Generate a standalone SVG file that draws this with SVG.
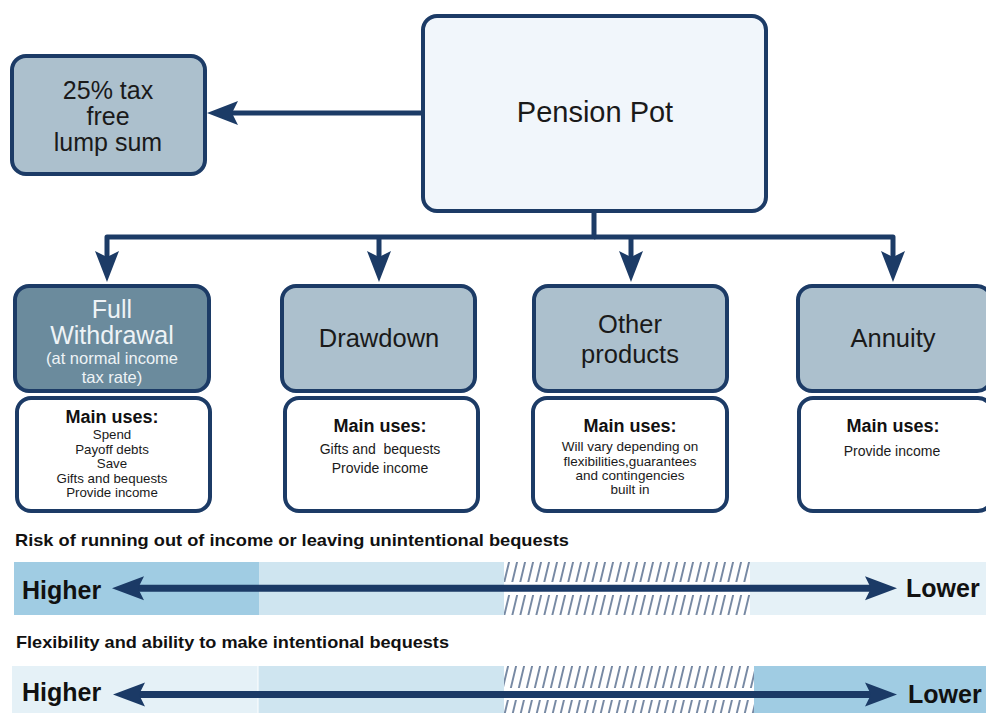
<svg xmlns="http://www.w3.org/2000/svg" width="986" height="713" viewBox="0 0 986 713">
<style>
.box{stroke:#1c3b66;stroke-width:4}
.pot{fill:#f1f6fb}
.mid{fill:#acc0cd}
.dark{fill:#6b8b9d}
.wht{fill:#ffffff}
.t{font-family:"Liberation Sans",Arial,sans-serif;fill:#1a1a1a;text-anchor:middle}
.tw{font-family:"Liberation Sans",Arial,sans-serif;fill:#eef3f6;text-anchor:middle}
.big{font-size:25px}
.b{font-family:"Liberation Sans",Arial,sans-serif;font-weight:bold;fill:#111}
.mu{font-size:18px;text-anchor:middle}
.s{font-size:14px}
.fs{font-size:13.3px}
.conn{fill:none;stroke:#1c3b66;stroke-width:5;stroke-linejoin:round}
.barrow{fill:none;stroke:#1b3a66;stroke-width:7}
</style>
<defs>
<marker id="ah" markerUnits="userSpaceOnUse" markerWidth="32" markerHeight="26" viewBox="0 -13 32 26" refX="6" refY="0" orient="auto">
<path d="M0,-12 L31,0 L0,12 L6,0 Z" fill="#1c3b66"/>
</marker>
<marker id="bh" markerUnits="userSpaceOnUse" markerWidth="33" markerHeight="26" viewBox="0 -13 33 26" refX="6" refY="0" orient="auto-start-reverse">
<path d="M0,-12 L32,0 L0,12 L6,0 Z" fill="#1b3a66"/>
</marker>
<pattern id="hatch" patternUnits="userSpaceOnUse" width="8" height="10" patternTransform="skewX(-13.5)">
<rect x="0" y="0" width="8" height="10" fill="#ffffff"/>
<line x1="4" y1="-1" x2="4" y2="11" stroke="#1c3b66" stroke-width="1.2"/>
</pattern>
</defs>

<g id="connectors">
<path class="conn" d="M421,113 H232" marker-end="url(#ah)"/>
<path class="conn" d="M594,212 V237 H107 V257" marker-end="url(#ah)"/>
<path class="conn" d="M594,237 H893 V257" marker-end="url(#ah)"/>
<path class="conn" d="M379,237 V257" marker-end="url(#ah)"/>
<path class="conn" d="M631,237 V257" marker-end="url(#ah)"/>
</g>

<g id="pension-pot">
<rect class="box pot" x="423" y="16" width="343" height="195" rx="14"/>
<text class="t" x="595" y="122" font-size="29">Pension Pot</text>
</g>

<g id="lump-sum">
<rect class="box mid" x="12" y="56" width="193" height="118" rx="14"/>
<text class="t big" x="108" y="99">25% tax</text>
<text class="t big" x="108" y="125">free</text>
<text class="t big" x="108" y="151">lump sum</text>
</g>

<g id="full-withdrawal">
<rect class="box dark" x="15" y="286" width="194" height="105" rx="14"/>
<text class="tw big" x="112" y="318">Full</text>
<text class="tw big" x="112" y="344">Withdrawal</text>
<text class="tw" x="112" y="364" font-size="16.5">(at normal income</text>
<text class="tw" x="112" y="383" font-size="16.5">tax rate)</text>
</g>
<g id="full-withdrawal-uses">
<rect class="box wht" x="17" y="398" width="193" height="113" rx="14"/>
<text class="b mu" x="112" y="423">Main uses:</text>
<text class="t fs" x="112" y="439">Spend</text>
<text class="t fs" x="112" y="453.5">Payoff debts</text>
<text class="t fs" x="112" y="468">Save</text>
<text class="t fs" x="112" y="482.5">Gifts and bequests</text>
<text class="t fs" x="112" y="497">Provide income</text>
</g>

<g id="drawdown">
<rect class="box mid" x="282" y="286" width="193" height="105" rx="14"/>
<text class="t" x="379" y="347" font-size="25.5">Drawdown</text>
</g>
<g id="drawdown-uses">
<rect class="box wht" x="285" y="398" width="193" height="113" rx="14"/>
<text class="b mu" x="380" y="432">Main uses:</text>
<text class="t s" x="380" y="454" xml:space="preserve">Gifts and  bequests</text>
<text class="t s" x="380" y="473">Provide income</text>
</g>

<g id="other-products">
<rect class="box mid" x="534" y="286" width="193" height="105" rx="14"/>
<text class="t" x="630" y="333" font-size="25.5">Other</text>
<text class="t" x="630" y="363" font-size="25.5">products</text>
</g>
<g id="other-products-uses">
<rect class="box wht" x="533" y="398" width="194" height="113" rx="14"/>
<text class="b mu" x="630" y="432">Main uses:</text>
<text class="t" x="630" y="451" font-size="13.5">Will vary depending on</text>
<text class="t" x="630" y="466" font-size="13.5">flexibilities,guarantees</text>
<text class="t" x="630" y="480" font-size="13.5">and contingencies</text>
<text class="t" x="630" y="494" font-size="13.5">built in</text>
</g>

<g id="annuity">
<rect class="box mid" x="798" y="286" width="193" height="105" rx="14"/>
<text class="t" x="893" y="347" font-size="25.5">Annuity</text>
</g>
<g id="annuity-uses">
<rect class="box wht" x="799" y="398" width="193" height="113" rx="14"/>
<text class="b mu" x="893" y="432">Main uses:</text>
<text class="t s" x="892" y="456">Provide income</text>
</g>

<g id="risk-scale">
<text class="b" x="15" y="546" font-size="17" textLength="554" lengthAdjust="spacingAndGlyphs">Risk of running out of income or leaving unintentional bequests</text>
<rect x="14" y="562" width="245" height="53" fill="#a0cce3"/>
<rect x="259" y="562" width="245" height="53" fill="#cfe5f0"/>
<rect x="504" y="562" width="246" height="53" fill="url(#hatch)"/>
<rect x="504" y="582" width="246" height="13" fill="#ffffff"/>
<rect x="750" y="562" width="236" height="53" fill="#e5f1f7"/>
<path class="barrow" d="M138,588.3 H871" marker-start="url(#bh)" marker-end="url(#bh)"/>
<text class="b" x="22" y="599" font-size="25">Higher</text>
<text class="b" x="906" y="597" font-size="25">Lower</text>
</g>

<g id="flexibility-scale">
<text class="b" x="16" y="648" font-size="17" textLength="433" lengthAdjust="spacingAndGlyphs">Flexibility and ability to make intentional bequests</text>
<rect x="12" y="666" width="245.5" height="47" fill="#e5f1f7"/>
<rect x="258.5" y="666" width="245.5" height="47" fill="#cfe5f0"/>
<rect x="504" y="666" width="250" height="47" fill="url(#hatch)"/>
<rect x="504" y="688" width="250" height="12" fill="#ffffff"/>
<rect x="754" y="666" width="232" height="47" fill="#a0cce3"/>
<path class="barrow" d="M139,694.5 H871" marker-start="url(#bh)" marker-end="url(#bh)"/>
<text class="b" x="22" y="701" font-size="25">Higher</text>
<text class="b" x="908" y="703" font-size="25">Lower</text>
</g>
</svg>
